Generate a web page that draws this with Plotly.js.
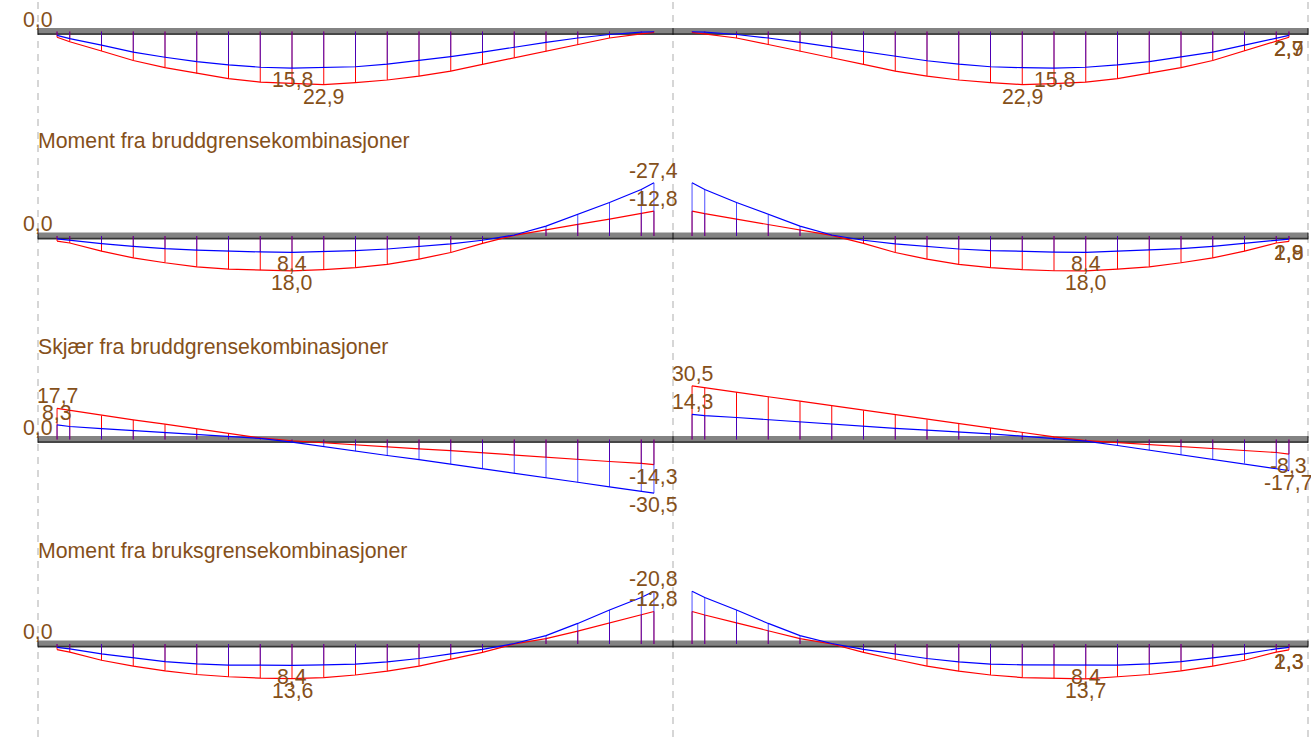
<!DOCTYPE html>
<html>
<head>
<meta charset="utf-8">
<script src="https://cdn.plot.ly/plotly-3.0.1.min.js"></script>
<style>html,body{margin:0;padding:0;background:#fff;}#chart{width:1311px;height:737px;}</style>
</head>
<body>
<div id="chart"></div>
<script>
// ---------- DATA ----------
const stationsL = [0.6,1,2,3,4,5,6,7,8,9,10,11,12,13,14,15,16,17,18,19,19.4];
const stationsR = [20.6,21,22,23,24,25,26,27,28,29,30,31,32,33,34,35,36,37,38,39,39.4];
const supports = [0, 20, 40];

const panelTitles = ["Moment fra bruddgrensekombinasjoner", "Skjær fra bruddgrensekombinasjoner", "Moment fra bruksgrensekombinasjoner"];

// Panel 1
const p1RedL  = [2.5,4.4,8.4,12.5,15.6,18.1,20.3,21.8,22.5,22.9,22.0,20.9,19.2,17.1,14.2,11.3,8.6,5.6,2.8,1.0,0.4];
const p1BlueL = [1.7,3.1,5.9,8.9,11.1,13.0,14.4,15.4,15.8,15.6,15.2,14.1,12.6,10.8,8.9,6.7,4.7,2.8,1.3,0.3,0.1];
const p1RedR  = [0.4,1.0,2.8,5.6,8.6,11.3,14.2,17.1,19.2,20.9,22.0,22.9,22.5,21.8,20.3,18.1,15.6,12.5,8.4,4.4,2.5];
const p1BlueR = [0.1,0.3,1.3,2.8,4.7,6.7,8.9,10.8,12.6,14.1,15.2,15.6,15.8,15.4,14.4,13.0,11.1,8.9,5.9,3.1,1.7];
const p1LabelText = ["0,0","15,8","22,9","15,8","22,9","2,9","2,7"];
const p1LabelX    = [0,8,9,32,31,39.4,39.4];
const p1LabelVal  = [0,15.8,22.9,15.8,22.9,2.5,2.5];

// Panel 2: Moment ULS
const p2RedL  = [2.6,3.6,7.8,11.3,13.8,15.9,17.1,17.6,18.0,17.3,16.3,14.6,11.9,8.5,3.8,-0.3,-3.3,-6.0,-8.7,-11.5,-12.8];
const p2BlueL = [1.5,2.2,3.9,5.3,6.5,7.3,7.8,8.2,8.4,8.0,7.5,6.7,5.5,4.1,2.2,-0.5,-5.1,-11.0,-17.3,-24.0,-27.4];
const p2RedR  = [-12.8,-11.5,-8.7,-6.0,-3.3,-0.3,3.8,8.5,11.9,14.6,16.3,17.3,17.9,18.0,17.1,15.9,13.8,11.3,7.8,3.6,2.8];
const p2BlueR = [-27.4,-24.0,-17.3,-11.0,-5.1,-0.5,2.2,4.1,5.5,6.7,7.5,8.0,8.3,8.4,7.8,7.3,6.5,5.3,3.9,2.2,1.6];
const p2LabelText = ["0,0","8,4","18,0","-27,4","-12,8","8,4","18,0","2,8","1,9"];
const p2LabelX    = [0,8,8,19.4,19.4,33,33,39.4,39.4];
const p2LabelVal  = [0,8.4,18.0,-27.4,-12.8,8.4,18.0,2.8,2.8];

// Panel 3: Shear ULS
const p3RedL  = [17.7,16.6,13.6,11.1,8.7,6.0,3.4,0.9,-0.7,-1.9,-3.2,-4.4,-5.3,-6.3,-7.6,-8.7,-10.0,-11.2,-12.5,-13.6,-14.3];
const p3BlueL = [8.3,7.4,6.2,5.1,4.0,2.8,1.7,0.6,-1.5,-4.1,-6.6,-9.1,-11.4,-13.9,-16.5,-19.3,-21.8,-24.3,-26.9,-29.4,-30.5];
const p3RedR  = [30.5,29.4,26.9,24.3,21.8,19.3,16.5,13.9,11.4,9.1,6.6,4.1,1.5,-0.6,-1.7,-2.8,-4.0,-5.1,-6.2,-7.4,-8.3];
const p3BlueR = [14.3,13.6,12.5,11.2,10.0,8.7,7.6,6.3,5.3,4.4,3.2,1.9,0.7,-0.9,-3.4,-6.0,-8.7,-11.1,-13.6,-16.6,-17.7];
const p3LabelText = ["0,0","17,7","8,3","-14,3","-30,5","30,5","14,3","-8,3","-17,7"];
const p3LabelX    = [0,0.6,0.6,19.4,19.4,20.6,20.6,39.4,39.4];
const p3LabelVal  = [0,17.7,8.3,-14.3,-30.5,30.5,14.3,-8.3,-17.7];

// Panel 4: Moment SLS
const p4RedL  = [2.2,3.2,6.4,8.7,10.6,12.0,12.9,13.4,13.6,13.2,12.2,10.7,8.7,6.1,3.3,0.0,-2.1,-5.1,-8.3,-11.4,-12.8];
const p4BlueL = [1.3,1.9,3.9,5.5,6.9,7.8,8.3,8.3,8.4,8.2,7.9,7.0,5.7,3.9,2.1,-0.2,-3.3,-8.1,-13.4,-18.3,-20.8];
const p4RedR  = [-12.8,-11.4,-8.3,-5.1,-2.1,0.0,3.3,6.1,8.7,10.7,12.2,13.2,13.5,13.7,12.9,12.0,10.6,8.7,6.4,3.2,2.3];
const p4BlueR = [-20.8,-18.3,-13.4,-8.1,-3.3,-0.2,2.1,3.9,5.7,7.0,7.9,8.2,8.3,8.4,8.3,7.8,6.9,5.5,3.9,1.9,1.3];
const p4LabelText = ["0,0","8,4","13,6","-20,8","-12,8","8,4","13,7","2,3","1,3"];
const p4LabelX    = [0,8,8,19.4,19.4,33,33,39.4,39.4];
const p4LabelVal  = [0,8.4,13.6,-20.8,-12.8,8.4,13.7,2.3,2.3];

// ---------- LAYOUT / STYLE ----------
const W = 1311, H = 737;
const PX_PER_UNIT = 31.75, X0PX = 38;
const TXT = "#85501a";
const FONT = {family: "Liberation Sans, Arial, sans-serif", size: 21.3, color: TXT};

// beam pixel position, pixels per value unit, positive direction
const panelsCfg = [
  {yb: 31.5,  s: 2.32, up: false, red: [p1RedL, p1RedR], blue: [p1BlueL, p1BlueR], lt: p1LabelText, lx: p1LabelX, lv: p1LabelVal},
  {yb: 236.0, s: 1.94, up: false, red: [p2RedL, p2RedR], blue: [p2BlueL, p2BlueR], lt: p2LabelText, lx: p2LabelX, lv: p2LabelVal},
  {yb: 439.5, s: 1.76, up: true,  red: [p3RedL, p3RedR], blue: [p3BlueL, p3BlueR], lt: p3LabelText, lx: p3LabelX, lv: p3LabelVal},
  {yb: 644.0, s: 2.54, up: false, red: [p4RedL, p4RedR], blue: [p4BlueL, p4BlueR], lt: p4LabelText, lx: p4LabelX, lv: p4LabelVal}
];
const titleY = [141, 347, 551];

const traces = [];
const annotations = [];
const layout = {
  width: W, height: H,
  margin: {l: 0, r: 0, t: 0, b: 0, pad: 0},
  paper_bgcolor: "#fff", plot_bgcolor: "#fff",
  showlegend: false,
  xaxis: {range: [-X0PX / PX_PER_UNIT, (W - X0PX) / PX_PER_UNIT], visible: false, fixedrange: true},
  yaxis: {range: [0, 1], visible: false, fixedrange: true},
  annotations: annotations
};

// dashed support lines (base axis, drawn first)
const dX = [], dY = [];
supports.forEach(s => { dX.push(s, s, null); dY.push(0, 1, null); });
traces.push({x: dX, y: dY, xaxis: "x", yaxis: "y", mode: "lines", hoverinfo: "skip",
  line: {color: "#c9c9c9", width: 1.5, dash: "7px,6px"}});

function vertical(stations, vals) {
  const xs = [], ys = [];
  stations.forEach((x, i) => { xs.push(x, x, null); ys.push(0, vals[i], null); });
  return {xs, ys};
}

panelsCfg.forEach((p, k) => {
  const ax = "y" + (k + 2);
  const axName = "yaxis" + (k + 2);
  const top = p.yb / p.s, bottom = (H - p.yb) / p.s;
  layout[axName] = {
    range: p.up ? [-bottom, top] : [bottom, -top],
    overlaying: "y", visible: false, fixedrange: true
  };
  const dirSign = p.up ? 1 : -1; // screen-up sign for positive values
  const px = v => v / p.s; // pixels -> value units

  // beam
  traces.push({x: [supports[0], supports[2]], y: [0, 0], xaxis: "x", yaxis: ax, mode: "lines",
    hoverinfo: "skip", line: {color: "#838383", width: 6.8}});
  const edge = -dirSign * px(2.5);
  traces.push({x: [supports[0], supports[2]], y: [edge, edge], xaxis: "x", yaxis: ax, mode: "lines",
    hoverinfo: "skip", line: {color: "#333333", width: 1.4}});
  const tX = [], tY = [];
  supports.forEach(s => { tX.push(s, s, null); tY.push(px(3.3), -px(3.3), null); });
  traces.push({x: tX, y: tY, xaxis: "x", yaxis: ax, mode: "lines", hoverinfo: "skip",
    line: {color: "#111", width: 1}});

  // red
  const rvL = vertical(stationsL, p.red[0]), rvR = vertical(stationsR, p.red[1]);
  traces.push({x: rvL.xs.concat(rvR.xs), y: rvL.ys.concat(rvR.ys), xaxis: "x", yaxis: ax,
    mode: "lines", hoverinfo: "skip", line: {color: "#ff0000", width: 1}});
  traces.push({x: stationsL.concat([null], stationsR), y: p.red[0].concat([null], p.red[1]),
    xaxis: "x", yaxis: ax, mode: "lines", hoverinfo: "skip", line: {color: "#ff0000", width: 1.2}});
  // blue
  const bvL = vertical(stationsL, p.blue[0]), bvR = vertical(stationsR, p.blue[1]);
  traces.push({x: bvL.xs.concat(bvR.xs), y: bvL.ys.concat(bvR.ys), xaxis: "x", yaxis: ax,
    mode: "lines", hoverinfo: "skip", line: {color: "rgba(0,0,255,0.7)", width: 1}});
  traces.push({x: stationsL.concat([null], stationsR), y: p.blue[0].concat([null], p.blue[1]),
    xaxis: "x", yaxis: ax, mode: "lines", hoverinfo: "skip", line: {color: "#0000ff", width: 1.2}});

  // value labels
  p.lt.forEach((t, i) => {
    const v = p.lv[i];
    let sign = v === 0 ? 1 : (v > 0 ? dirSign : -dirSign);
    annotations.push({xref: "x", yref: ax, x: p.lx[i], y: v, text: t, showarrow: false,
      xanchor: "center", yanchor: "middle", yshift: sign * 12, font: FONT});
  });
});

// panel titles
panelTitles.forEach((t, i) => {
  annotations.push({xref: "paper", yref: "paper", x: X0PX / W, y: 1 - titleY[i] / H, text: t,
    showarrow: false, xanchor: "left", yanchor: "middle", xshift: -2, font: FONT});
});

Plotly.newPlot("chart", traces, layout, {staticPlot: true, displayModeBar: false});
</script>
</body>
</html>
